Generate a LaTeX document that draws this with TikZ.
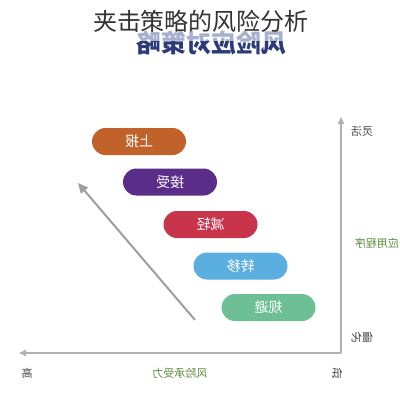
\documentclass[tikz,border=0pt]{standalone}
\usepackage{fontspec}
\usepackage{graphicx}
\setmainfont{Noto Sans CJK SC}
\usetikzlibrary{arrows.meta}
\definecolor{cBrown}{HTML}{C0622A}
\definecolor{cPurple}{HTML}{5A2D8A}
\definecolor{cRed}{HTML}{C8344A}
\definecolor{cBlue}{HTML}{5AAEE0}
\definecolor{cGreen}{HTML}{6DBF95}
\definecolor{cNavy}{HTML}{2A3A7A}
\definecolor{cFade}{HTML}{A8B0D0}
\definecolor{cAxis}{HTML}{B0B0B0}
\definecolor{cLab}{HTML}{5A8A3A}
\definecolor{cTxt}{HTML}{444444}
\tikzset{
  pill/.style={rectangle, rounded corners=13.5pt, minimum width=94pt, minimum height=27pt,
    inner sep=0pt, text=white, font=\fontsize{14}{14}\selectfont},
  axlab/.style={inner sep=0pt, text=cTxt, font=\fontsize{11}{11}\selectfont},
  greenlab/.style={inner sep=0pt, text=cLab, font=\fontsize{11}{11}\selectfont},
  axline/.style={draw=cAxis, line width=1.5pt, -{Triangle[length=7pt,width=6pt]}},
}
\begin{document}
\begin{tikzpicture}[x=1pt,y=-1pt]
\useasboundingbox (0,0) rectangle (400,400);
\fill[white] (0,0) rectangle (400,400);
% mirrored heading (faded upper part)
\begin{scope}
  \clip (100,20) rectangle (320,41);
  \node[inner sep=0pt, text=cFade, font=\fontsize{25}{25}\bfseries] (headA) at (212,43) {\reflectbox{风险应对策略}};
\end{scope}
\begin{scope}
  \clip (100,41) rectangle (320,60);
  \node[inner sep=0pt, text=cNavy, font=\fontsize{25}{25}\bfseries] (headB) at (212,43) {\reflectbox{风险应对策略}};
\end{scope}
% title
\node[inner sep=0pt, text=black!80, font=\fontsize{24}{24}\selectfont] (title) at (201,21) {夹击策略的风险分析};
% pills
\node[pill, fill=cBrown] (p1) at (139,141.5) {\reflectbox{上报}};
\node[pill, fill=cPurple] (p2) at (170,182) {\reflectbox{接受}};
\node[pill, fill=cRed] (p3) at (210.5,224.5) {\reflectbox{减轻}};
\node[pill, fill=cBlue] (p4) at (240.5,266) {\reflectbox{转移}};
\node[pill, fill=cGreen] (p5) at (268.5,307.5) {\reflectbox{规避}};
% diagonal arrow
\coordinate (dA) at (195,320);
\coordinate (dB) at (78,183);
\draw[draw=cAxis!90!black, line width=2pt, -{Triangle[length=10pt,width=9pt]}] (dA) -- (dB);
% axes
\coordinate (orig) at (341,353);
\coordinate (ytop) at (341,117);
\coordinate (xleft) at (19,353);
\draw[axline] (orig) -- (ytop);
\draw[axline] (orig) -- (xleft);
% labels
\node[axlab] (l1) at (362,131) {\reflectbox{灵活}};
\node[greenlab] (l2) at (377,243) {\reflectbox{应用程序}};
\node[axlab] (l3) at (362,337) {\reflectbox{僵化}};
\node[axlab] (l4) at (337,373) {\reflectbox{低}};
\node[greenlab] (l5) at (180,373) {\reflectbox{风险承受力}};
\node[axlab] (l6) at (27,373) {\reflectbox{高}};
\end{tikzpicture}
\end{document}
